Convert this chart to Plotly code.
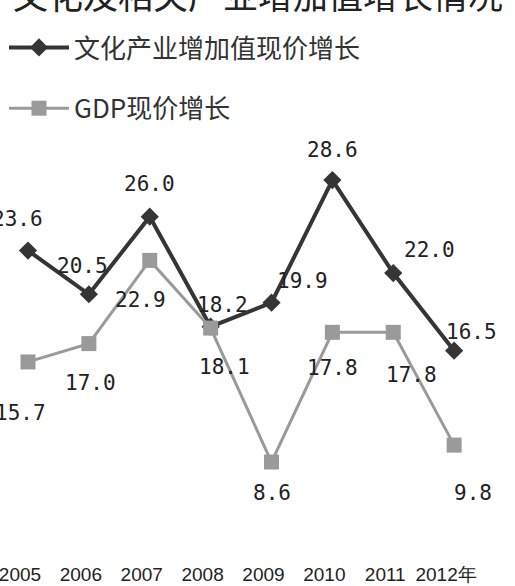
import plotly.graph_objects as go

years = [2005, 2006, 2007, 2008, 2009, 2010, 2011, 2012]
tick_labels = ["2005", "2006", "2007", "2008", "2009", "2010", "2011", "2012年"]
culture_growth = [23.6, 20.5, 26.0, 18.2, 19.9, 28.6, 22.0, 16.5]
gdp_growth = [15.7, 17.0, 22.9, 18.1, 8.6, 17.8, 17.8, 9.8]

title_text = "文化及相关产业增加值增长情况"
culture_name = "文化产业增加值现价增长"
gdp_name = "GDP现价增长"

# label offsets in pixels (style)
culture_label_dx = [-11, -6, 0, 12, 31, 0, 36, 17]
culture_label_dy = [32, 28, 33, 22, 22, 30, 23, 19]
gdp_label_dx = [-8, 2, -9, 14, 0, 0, 18, 19]
gdp_label_dy = [-51, -39, -40, -39, -31, -36, -43, -48]

dark = "#353535"
grey = "#9a9a9a"

fig = go.Figure()
fig.add_trace(go.Scatter(
    x=years, y=culture_growth, name=culture_name, mode="lines+markers",
    line=dict(color=dark, width=4),
    marker=dict(symbol="diamond", size=14, color=dark),
    legendgroup="a",
))
fig.add_trace(go.Scatter(
    x=years, y=gdp_growth, name=gdp_name, mode="lines+markers",
    line=dict(color=grey, width=3),
    marker=dict(symbol="square", size=15, color=grey),
    legendgroup="b",
))

label_font = dict(family="DejaVu Sans Mono", size=21, color="#222222")
annotations = []
for x, v, dx, dy in zip(years, culture_growth, culture_label_dx, culture_label_dy):
    annotations.append(dict(x=x, y=v, xref="x", yref="y", text=f"{v:.1f}",
                            showarrow=False, xshift=dx, yshift=dy, font=label_font))
for x, v, dx, dy in zip(years, gdp_growth, gdp_label_dx, gdp_label_dy):
    annotations.append(dict(x=x, y=v, xref="x", yref="y", text=f"{v:.1f}",
                            showarrow=False, xshift=dx, yshift=dy, font=label_font))
annotations.append(dict(x=0.5, y=1.012, xref="paper", yref="paper", text=title_text,
                        showarrow=False, xanchor="center", yanchor="middle",
                        font=dict(family="Noto Sans CJK SC", size=35, color="#222222")))

fig.update_layout(
    width=515, height=586,
    margin=dict(l=0, r=0, t=0, b=25, autoexpand=False),
    paper_bgcolor="white", plot_bgcolor="white",
    showlegend=True,
    legend=dict(x=4 / 515, y=1 - 24 / 561, xanchor="left", yanchor="top",
                font=dict(family="Noto Sans CJK SC", size=26, color="#333333"),
                itemwidth=60, tracegroupgap=24, bgcolor="rgba(0,0,0,0)"),
    annotations=annotations,
    xaxis=dict(range=[2004.54, 2013.0], tickvals=years, ticktext=tick_labels,
               showgrid=False, zeroline=False, showline=False, ticks="",
               ticklabelshift=-8, automargin=False, ticklabeloverflow="allow",
               tickfont=dict(family="Liberation Sans", size=19, color="#222222")),
    yaxis=dict(range=[1.58, 41.37], showgrid=False, zeroline=False, automargin=False,
               showline=False, showticklabels=False, ticks=""),
)

fig.write_html("out.html", config={"displayModeBar": False},
               post_script="document.body.style.margin='0';document.body.style.overflow='hidden';")
